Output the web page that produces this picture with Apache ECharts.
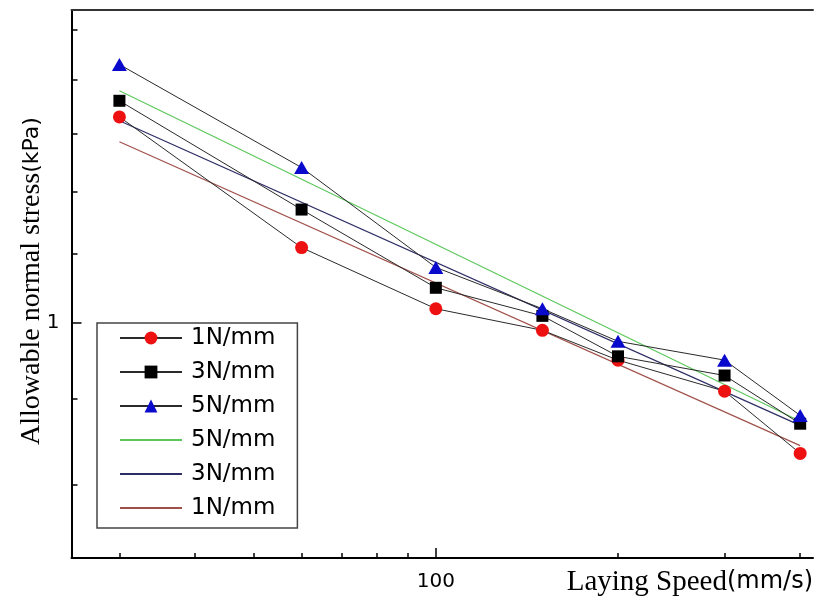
<!DOCTYPE html>
<html><head><meta charset="utf-8">
<script src="https://cdn.jsdelivr.net/npm/echarts@6/dist/echarts.min.js"></script>
<style>html,body{margin:0;padding:0;background:#fff}#c{width:814px;height:603px}</style>
</head><body><div id="c"></div>
<script>
// ---- data ----
const speeds = [30, 60, 100, 150, 200, 300, 400];
const stress1 = [1.33, 1.11, 1.02, 0.99, 0.95, 0.91, 0.835];
const stress3 = [1.36, 1.17, 1.05, 1.01, 0.955, 0.93, 0.87];
const stress5 = [1.43, 1.24, 1.08, 1.02, 0.975, 0.95, 0.88];
const fitX = [30, 400];
const fit5 = [1.379, 0.873];
const fit3 = [1.323, 0.868];
const fit1 = [1.285, 0.844];
const xMinorTicks = [30, 40, 50, 60, 70, 80, 90, 200, 300, 400];
const xMajorTicks = [100];
const yMinorTicks = [0.8, 0.9, 1.1, 1.2, 1.3, 1.4, 1.5];
const yMajorTicks = [1];
const dataNames = ['1N/mm', '3N/mm', '5N/mm'];
const fitNames = ['5N/mm', '3N/mm', '1N/mm'];
const ZW = '\u200b';

const X_MIN = 25, X_MAX = 420, Y_MIN = 0.7225, Y_MAX = 1.542;

const pairs = (xs, ys) => xs.map((x, i) => [x, ys[i]]);

const chart = echarts.init(document.getElementById('c'), null, {renderer: 'canvas'});

function xAxisBase(extra) {
  return Object.assign({
    type: 'log', min: X_MIN, max: X_MAX, logBase: 10, position: 'bottom',
    splitLine: {show: false}, minorTick: {show: false}
  }, extra);
}
function yAxisBase(extra) {
  return Object.assign({
    type: 'log', min: Y_MIN, max: Y_MAX, logBase: 10, position: 'left',
    splitLine: {show: false}, minorTick: {show: false}
  }, extra);
}

const markerSeries = [
  {name: dataNames[0], ys: stress1, symbol: 'circle', size: 13, color: '#ee1111'},
  {name: dataNames[1], ys: stress3, symbol: 'rect', size: 12, color: '#000000'},
  {name: dataNames[2], ys: stress5, symbol: 'triangle', size: [15, 13], color: '#0a0acc'}
].map(s => ({
  name: s.name, type: 'line', data: pairs(speeds, s.ys),
  symbol: s.symbol, symbolSize: s.size, showSymbol: true,
  itemStyle: {color: s.color},
  lineStyle: {color: '#2a2a2a', width: 1},
  z: 5, animation: false
}));

const fitSeries = [
  {name: fitNames[0] + ZW, ys: fit5, color: '#5cc85c'},
  {name: fitNames[1] + ZW + ZW, ys: fit3, color: '#2e2e66'},
  {name: fitNames[2] + ZW + ZW + ZW, ys: fit1, color: '#a0504a'}
].map(s => ({
  name: s.name, type: 'line', data: pairs(fitX, s.ys),
  symbol: 'circle', showSymbol: false,
  itemStyle: {color: 'rgba(0,0,0,0)', borderWidth: 0},
  lineStyle: {color: s.color, width: 1.2},
  z: 3, animation: false
}));

const option = {
  animation: false,
  backgroundColor: '#ffffff',
  grid: {left: 71.5, right: 1, top: 10, bottom: 45, containLabel: false},
  xAxis: [
    xAxisBase({
      axisLine: {show: true, lineStyle: {color: '#000', width: 2}},
      axisTick: {show: true, inside: true, length: 5, customValues: xMinorTicks, lineStyle: {color: '#000', width: 1.5}},
      axisLabel: {show: true, customValues: xMajorTicks, formatter: v => String(Math.round(v)),
        fontFamily: 'DejaVu Sans', fontSize: 20, color: '#000', margin: 14}
    }),
    xAxisBase({
      axisLine: {show: false},
      axisTick: {show: true, inside: true, length: 10, customValues: xMajorTicks, lineStyle: {color: '#000', width: 1.5}},
      axisLabel: {show: false}
    }),
    xAxisBase({
      position: 'top',
      axisLine: {show: true, lineStyle: {color: '#333', width: 2}},
      axisTick: {show: false}, axisLabel: {show: false}
    })
  ],
  yAxis: [
    yAxisBase({
      axisLine: {show: true, lineStyle: {color: '#000', width: 2}},
      axisTick: {show: true, inside: true, length: 6, customValues: yMinorTicks, lineStyle: {color: '#000', width: 1.5}},
      axisLabel: {show: true, customValues: yMajorTicks, formatter: v => String(Math.round(v)),
        fontFamily: 'DejaVu Sans', fontSize: 20, color: '#000', margin: 12}
    }),
    yAxisBase({
      axisLine: {show: false},
      axisTick: {show: true, inside: true, length: 10, customValues: yMajorTicks, lineStyle: {color: '#000', width: 1.5}},
      axisLabel: {show: false}
    })
  ],
  legend: {
    orient: 'vertical', left: 97, top: 323, align: 'left',
    padding: [3, 22, 8, 22],
    itemWidth: 62, itemHeight: 16, itemGap: 10,
    backgroundColor: '#fff',
    borderColor: '#444', borderWidth: 1.5, borderRadius: 0,
    selectedMode: false,
    inactiveColor: '#000',
    formatter: n => n.replace(/\u200b/g, ''),
    textStyle: {fontFamily: 'DejaVu Sans', fontSize: 23, color: '#000', lineHeight: 24, padding: [0, 0, 0, 4]},
    data: [
      dataNames[0], dataNames[1], dataNames[2],
      fitNames[0] + ZW, fitNames[1] + ZW + ZW, fitNames[2] + ZW + ZW + ZW
    ]
  },
  graphic: [
    {
      type: 'text', x: 32, y: 281, rotation: Math.PI / 2,
      style: {
        text: '{s|Allowable normal stress}{k|(kPa)}',
        align: 'center', verticalAlign: 'middle',
        rich: {
          s: {fontFamily: 'Liberation Serif', fontSize: 28, fill: '#000'},
          k: {fontFamily: 'DejaVu Sans', fontSize: 22, fill: '#000'}
        }
      }
    },
    {
      type: 'text', x: 813, y: 582,
      style: {
        text: '{s|Laying Speed}{k|(mm/s)}',
        align: 'right', verticalAlign: 'middle',
        rich: {
          s: {fontFamily: 'Liberation Serif', fontSize: 29, fill: '#000'},
          k: {fontFamily: 'DejaVu Sans', fontSize: 24, fill: '#000'}
        }
      }
    }
  ],
  series: markerSeries.concat(fitSeries)
};
chart.setOption(option);
</script>
</body></html>
